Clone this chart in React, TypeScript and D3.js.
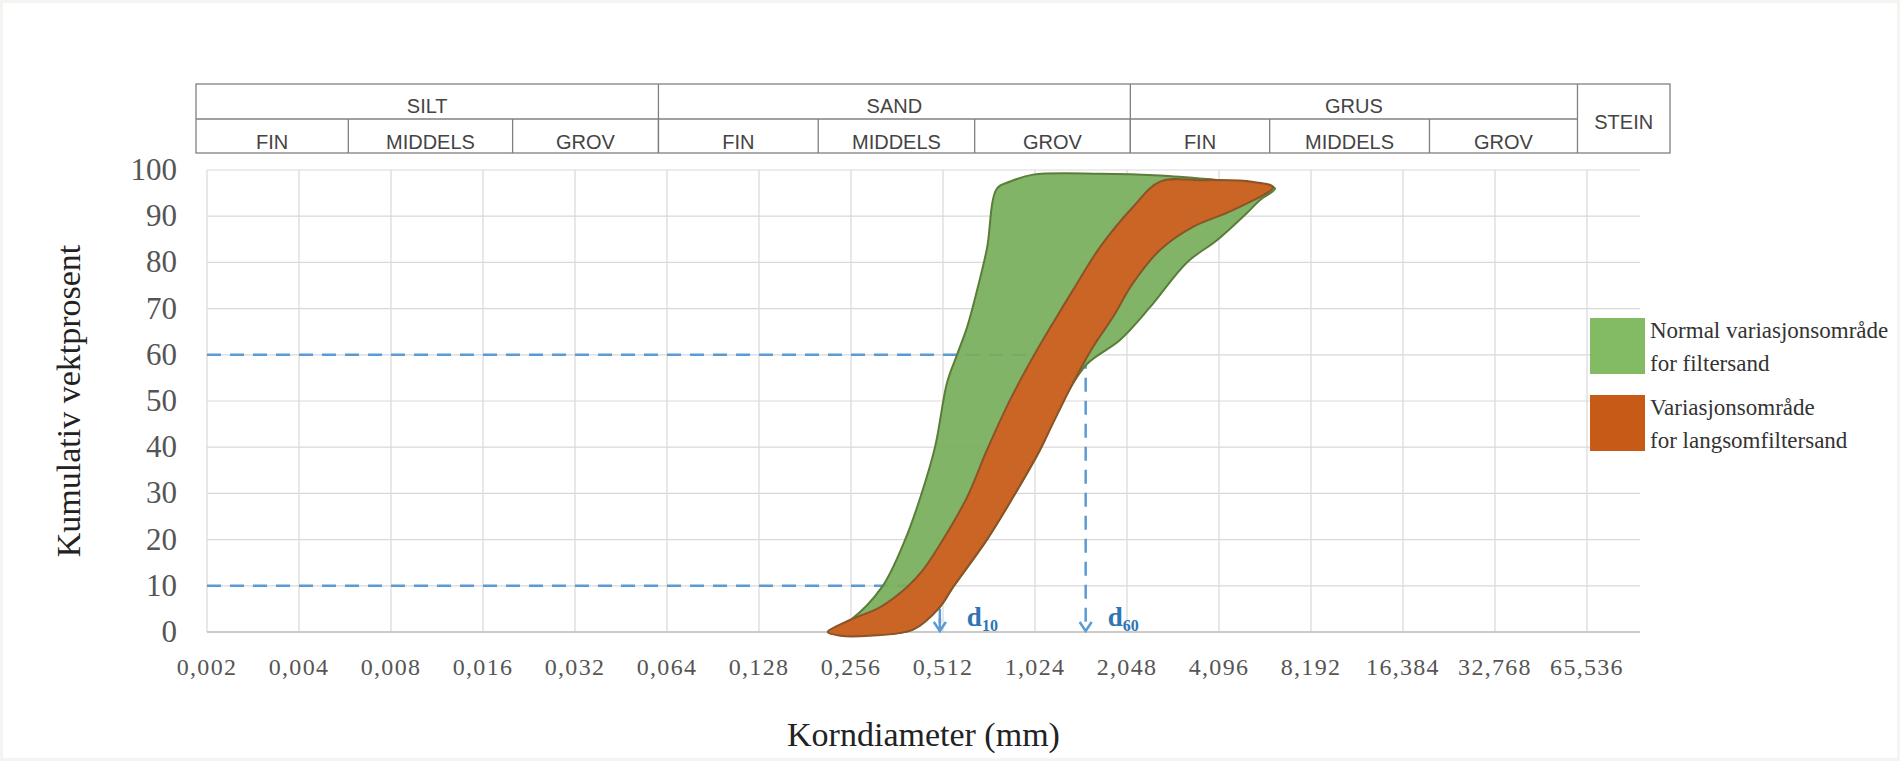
import React from 'react';
import * as d3 from 'd3';

// grain size (mm) on a log2 axis, cumulative weight percent
const xTicks = [0.002, 0.004, 0.008, 0.016, 0.032, 0.064, 0.128, 0.256, 0.512, 1.024, 2.048, 4.096, 8.192, 16.384, 32.768, 65.536];
const yTicks = [0, 10, 20, 30, 40, 50, 60, 70, 80, 90, 100];

// soil classes for the header table
const mainClasses = ['SILT', 'SAND', 'GRUS', 'STEIN'];
const mainBounds = [0.002, 0.06, 2.1, 61];
const subClasses = ['FIN', 'MIDDELS', 'GROV', 'FIN', 'MIDDELS', 'GROV', 'FIN', 'MIDDELS', 'GROV'];
const subBounds = [0.002, 0.0058, 0.02, 0.06, 0.2, 0.65, 2.1, 6, 20, 61];

// envelope of normal filter sand: fine side (bottom -> top), then coarse side (top -> bottom)
const greenMm = [0.215, 0.254, 0.323, 0.385, 0.431, 0.482, 0.528, 0.569, 0.614, 0.662, 0.713, 0.769, 0.85, 1.009, 1.671, 2.627, 4.126, 5.662, 6.247,
  5.58, 5.056, 4.034, 3.218, 2.436, 1.943, 1.515, 1.264, 1.063, 0.868, 0.713, 0.552, 0.5, 0.408, 0.295, 0.236];
const greenPct = [0, 2.5, 9.7, 20, 29, 40, 54, 60, 66, 74, 83, 96, 97.5, 99, 99.2, 98.8, 97.8, 97, 96,
  93.5, 90.7, 84.8, 80, 70.3, 63.2, 58, 50, 39.4, 29.2, 20, 9.7, 5.4, 0.5, -0.6, -0.6];

// envelope of slow filter sand
const orangeMm = [0.215, 0.254, 0.319, 0.39, 0.44, 0.512, 0.614, 0.713, 0.848, 1.009, 1.173, 1.363, 1.671, 2.142, 2.627, 3.548, 5.173, 6.153,
  4.551, 3.366, 2.627, 2.142, 1.843, 1.585, 1.363, 1.173, 1.063, 0.868, 0.713, 0.552, 0.5, 0.408, 0.295, 0.236];
const orangePct = [0, 2.6, 5.4, 9.7, 13.4, 20, 29.2, 39.4, 50.2, 59.5, 66.9, 74, 83.3, 92, 97.5, 97.8, 97.5, 96.3,
  91.3, 87.7, 82.7, 75.5, 68.2, 61.7, 53.9, 45.2, 39.4, 29.2, 20, 9.7, 5.4, 0.5, -0.8, -0.8];

const d10 = 0.5;
const d60 = 1.5;

const legendItems = [
  { color: '#82bb64', lines: ['Normal variasjonsområde', 'for filtersand'] },
  { color: '#c65a16', lines: ['Variasjonsområde', 'for langsomfiltersand'] },
];

const serif = '"Liberation Serif", "Times New Roman", serif';
const sans = '"Liberation Sans", Arial, sans-serif';

const App = () => {
  const width = 1900;
  const height = 761;
  const plotRight = 1640;

  const x = d3.scaleLog().base(2).domain([0.002, 65.536]).range([207, 1587]);
  const y = d3.scaleLinear().domain([0, 100]).range([632, 170]);

  const area = d3.line<[number, number]>()
    .x(d => x(d[0]))
    .y(d => y(d[1]))
    .curve(d3.curveCatmullRomClosed.alpha(0.5));

  const greenPts = greenMm.map((v, i) => [v, greenPct[i]] as [number, number]);
  const orangePts = orangeMm.map((v, i) => [v, orangePct[i]] as [number, number]);

  const tableLeft = x(0.002) - 11;
  const tableRight = 1670;
  const row1 = 84, row2 = 119, row3 = 153;
  const edge = (v: number, i: number) => (i === 0 ? tableLeft : x(v));

  const fmt = (v: number) => String(v).replace('.', ',');
  const blue = '#5b9bd5';
  const arrowBottom = y(0) - 1;

  const arrow = (xv: number) => {
    const cx = x(xv);
    return `M${cx - 6},${arrowBottom - 9} L${cx},${arrowBottom} L${cx + 6},${arrowBottom - 9}`;
  };

  return (
    <svg width={width} height={height} style={{ position: 'absolute', left: 0, top: 0, background: '#f4f4f0' }}>
      <rect x={3} y={3} width={width - 6} height={height - 6} fill="#ffffff" />

      {/* header table */}
      <g stroke="#808080" strokeWidth={1.3} fill="none">
        <rect x={tableLeft} y={row1} width={tableRight - tableLeft} height={row3 - row1} />
        <line x1={tableLeft} x2={x(61)} y1={row2} y2={row2} />
        {mainBounds.slice(1).map(b => (
          <line key={'m' + b} x1={x(b)} x2={x(b)} y1={row1} y2={row3} />
        ))}
        {subBounds.slice(1, -1).map(b => (
          <line key={'s' + b} x1={x(b)} x2={x(b)} y1={row2} y2={row3} />
        ))}
      </g>
      <g fontFamily={sans} fontSize={20} fill="#444" textAnchor="middle">
        {mainClasses.slice(0, 3).map((c, i) => (
          <text key={c} x={(edge(mainBounds[i], i) + x(mainBounds[i + 1])) / 2} y={113}>{c}</text>
        ))}
        <text x={(x(61) + tableRight) / 2} y={129}>{mainClasses[3]}</text>
        {subClasses.map((c, i) => (
          <text key={i} x={(edge(subBounds[i], i) + x(subBounds[i + 1])) / 2} y={149}>{c}</text>
        ))}
      </g>

      {/* grid */}
      <g stroke="#d9d9d9" strokeWidth={1.2}>
        {yTicks.map(t => (
          <line key={'h' + t} x1={x(0.002)} x2={plotRight} y1={y(t)} y2={y(t)} />
        ))}
        {xTicks.map(t => (
          <line key={'v' + t} x1={x(t)} x2={x(t)} y1={y(100)} y2={y(0)} />
        ))}
      </g>
      <line x1={x(0.002)} x2={plotRight} y1={y(0)} y2={y(0)} stroke="#bfbfbf" strokeWidth={1.5} />

      {/* d10 / d60 guides */}
      <g stroke={blue} strokeWidth={2.5} strokeDasharray="14 9" fill="none">
        <line x1={x(0.002)} x2={x(d60)} y1={y(60)} y2={y(60)} />
        <line x1={x(0.002)} x2={x(d10)} y1={y(10)} y2={y(10)} />
        <line x1={x(d60)} x2={x(d60)} y1={y(60)} y2={arrowBottom} />
        <line x1={x(d10)} x2={x(d10)} y1={y(10)} y2={arrowBottom} />
      </g>

      {/* envelopes */}
      <path d={area(greenPts) || ''} fill="#77ae5a" fillOpacity={0.93} stroke="#5a7d3a" strokeWidth={2} strokeLinejoin="round" />
      <path d={area(orangePts) || ''} fill="#cd6122" fillOpacity={0.95} stroke="#8a5428" strokeWidth={2} strokeLinejoin="round" />

      {/* arrows and labels */}
      <g stroke={blue} strokeWidth={2.5} fill="none">
        <line x1={x(d10)} x2={x(d10)} y1={y(3)} y2={arrowBottom} />
        <path d={arrow(d10)} />
        <path d={arrow(d60)} />
      </g>
      <g fontFamily={serif} fontWeight="bold" fill="#2e75b6">
        <text x={x(d10) + 27} y={626} fontSize={27}>d<tspan fontSize={16} dy={5}>10</tspan></text>
        <text x={x(d60) + 22} y={626} fontSize={27}>d<tspan fontSize={16} dy={5}>60</tspan></text>
      </g>

      {/* axes labels */}
      <g fontFamily={serif} fontSize={31} fill="#555" textAnchor="end">
        {yTicks.map(t => (
          <text key={t} x={177} y={y(t) + 10}>{t}</text>
        ))}
      </g>
      <g fontFamily={serif} fontSize={24} fill="#555" textAnchor="middle" letterSpacing={1.3}>
        {xTicks.map(t => (
          <text key={t} x={x(t)} y={675}>{fmt(t)}</text>
        ))}
      </g>
      <text x={(x(0.002) + plotRight) / 2} y={746} fontFamily={serif} fontSize={34} fill="#222" textAnchor="middle">Korndiameter (mm)</text>
      <text transform={`translate(80, ${(y(0) + y(100)) / 2}) rotate(-90)`} fontFamily={serif} fontSize={34} fill="#222" textAnchor="middle">Kumulativ vektprosent</text>

      {/* legend */}
      {legendItems.map((item, i) => (
        <g key={i} transform={`translate(1590, ${318 + i * 77})`}>
          <rect width={55} height={56} fill={item.color} />
          {item.lines.map((ln, j) => (
            <text key={j} x={60} y={20 + j * 33} fontFamily={serif} fontSize={23} fill="#333">{ln}</text>
          ))}
        </g>
      ))}
    </svg>
  );
};

export default App;
